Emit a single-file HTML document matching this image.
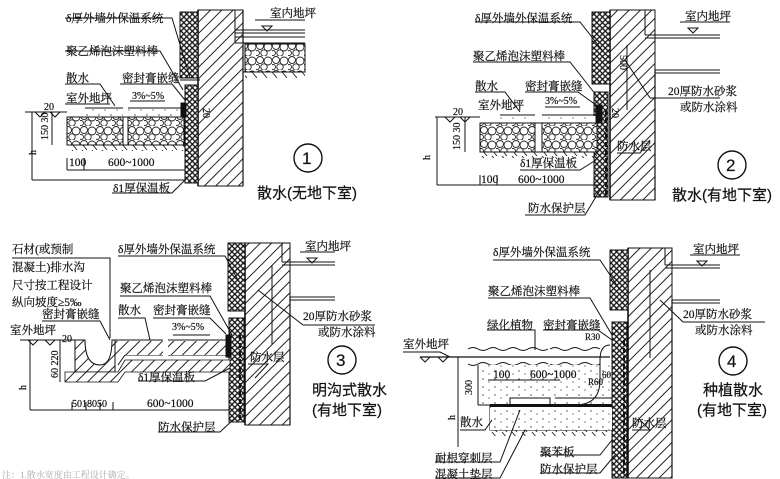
<!DOCTYPE html>
<html><head><meta charset="utf-8"><style>
html,body{margin:0;padding:0;background:#fff;}
svg{display:block;}
text{font-family:"Liberation Serif","Noto Serif CJK SC","Noto Sans CJK SC",serif;font-size:11.5px;fill:#111;stroke:#111;stroke-width:0.2;}
.t{font-family:"Liberation Sans","Noto Sans CJK SC",sans-serif;font-size:15px;}
.n{font-family:"Liberation Sans",sans-serif;font-size:17px;}
</style></head><body>
<svg width="780" height="479" viewBox="0 0 780 479" xmlns="http://www.w3.org/2000/svg">
<defs>
<pattern id="h" width="8" height="8" patternUnits="userSpaceOnUse" patternTransform="rotate(45)">
<rect width="8" height="8" fill="#fff"/><line x1="4" y1="-1" x2="4" y2="9" stroke="#222" stroke-width="1"/></pattern>
<pattern id="x" width="4" height="4" patternUnits="userSpaceOnUse" patternTransform="rotate(45)">
<rect width="4" height="4" fill="#fff"/><line x1="2" y1="-1" x2="2" y2="5" stroke="#111" stroke-width="1.3"/><line x1="-1" y1="2" x2="5" y2="2" stroke="#111" stroke-width="1.3"/></pattern>
<pattern id="g" width="16" height="14" patternUnits="userSpaceOnUse">
<rect width="16" height="14" fill="#fff"/>
<circle cx="4" cy="4" r="3.5" fill="none" stroke="#222" stroke-width="0.9"/>
<circle cx="12" cy="5" r="4" fill="none" stroke="#222" stroke-width="0.9"/>
<circle cx="8" cy="11" r="3.2" fill="none" stroke="#222" stroke-width="0.9"/>
<circle cx="1" cy="11" r="2.5" fill="none" stroke="#222" stroke-width="0.9"/>
</pattern>
<pattern id="c" width="12" height="8" patternUnits="userSpaceOnUse">
<rect width="12" height="8" fill="#fff"/><circle cx="3" cy="3" r="0.7" fill="#333"/><circle cx="9" cy="6" r="0.6" fill="#333"/></pattern>
<pattern id="s" width="10" height="6" patternUnits="userSpaceOnUse">
<line x1="2" y1="0" x2="7" y2="6" stroke="#222" stroke-width="0.9"/></pattern>
</defs>
<g stroke="#111" stroke-width="1" fill="none">

<!-- PANEL 1 -->
<rect x="198" y="10" width="45" height="176" fill="url(#h)"/>
<line x1="198" y1="10" x2="198" y2="186" stroke-width="1.6"/>
<line x1="243" y1="10" x2="243" y2="186" stroke-width="1.2"/>
<line x1="235" y1="10" x2="235" y2="42"/>
<rect x="180" y="12" width="18" height="66" fill="url(#x)"/>
<rect x="185" y="85" width="13" height="98" fill="url(#x)"/>
<line x1="180" y1="80" x2="200" y2="80"/>
<path d="M235 30 H305 M235 33 H305 M235 37 H305 M235 43 H305" />
<rect x="245" y="44" width="60" height="28" fill="url(#g)"/>
<line x1="243" y1="72" x2="305" y2="72"/>
<rect x="245" y="72" width="60" height="6" fill="url(#s)" stroke="none"/>
<path d="M85 108 H123 M128 108 H185 L185 117 H67" />
<rect x="85" y="109" width="38" height="8" fill="url(#c)" stroke="none"/>
<rect x="128" y="109" width="56" height="8" fill="url(#c)" stroke="none"/>
<rect x="181" y="103" width="5" height="14" fill="#111"/>
<rect x="67" y="117" width="56" height="28" fill="url(#g)"/>
<rect x="128" y="117" width="56" height="28" fill="url(#g)"/>
<rect x="67" y="145" width="118" height="6" fill="url(#s)" stroke="none"/>
<line x1="67" y1="145" x2="185" y2="145"/>
<path d="M25 112 H67 M35 112 l5 5 l5 -5 M50 112 l5 5 l5 -5"/>
<path d="M32 112 V180 M52 112 V145 M32 180 H185 M67 170 V158 M84 170 V158 M67 170 H185"/>
<path d="M65 18 H172 L190 78 M65 51 H160 L183 90 M65 84 H100 L115 106 M120 84 H172 L185 100 M65 104 H110 M130 101 L165 101 M112 193 H172 L185 180"/>
<path d="M255 20 H305 M262 26 l5 5 l5 -5 z"/>
<circle cx="308" cy="158" r="14" stroke-width="1.4"/>

<!-- PANEL 2 -->
<rect x="610" y="10" width="45" height="190" fill="url(#h)"/>
<line x1="610" y1="10" x2="610" y2="200" stroke-width="1.6"/>
<line x1="655" y1="70" x2="655" y2="200" stroke-width="1.2"/>
<line x1="645" y1="10" x2="645" y2="35"/>
<path d="M645 35 H720 M645 38 H720 M655 70 H720 M655 73 H720"/>
<rect x="592" y="12" width="18" height="72" fill="url(#x)"/>
<rect x="594" y="92" width="14" height="105" fill="url(#x)"/>
<line x1="606" y1="110" x2="606" y2="195" stroke-dasharray="5 3" stroke-width="2"/>
<path d="M500 115 H535 M542 115 H598 L598 123 H480"/>
<rect x="500" y="116" width="35" height="7" fill="url(#c)" stroke="none"/>
<rect x="542" y="116" width="55" height="7" fill="url(#c)" stroke="none"/>
<rect x="596" y="105" width="6" height="18" fill="#111"/>
<rect x="480" y="123" width="55" height="29" fill="url(#g)"/>
<rect x="542" y="123" width="55" height="29" fill="url(#g)"/>
<line x1="480" y1="152" x2="598" y2="152"/>
<rect x="480" y="152" width="118" height="6" fill="url(#s)" stroke="none"/>
<path d="M435 117 H480 M445 117 l5 5 l5 -5 M460 117 l5 5 l5 -5"/>
<path d="M437 117 V185 M465 117 V152 M437 185 H600 M480 185 V175 M497 185 V175 M627 45 V110"/>
<path d="M475 22 H580 L602 50 M473 62 H570 L600 100 M475 92 H505 L520 112 M525 92 H578 L596 105 M545 107 H580 M520 170 H580 L596 160 M525 215 H585 L600 190 M617 153 H640 L650 140 M650 98 H720 M650 98 L625 60"/>
<path d="M680 22 H730 M688 28 l5 5 l5 -5 z"/>
<circle cx="732" cy="165" r="14" stroke-width="1.4"/>

<!-- PANEL 3 -->
<rect x="245" y="243" width="45" height="182" fill="url(#h)"/>
<line x1="245" y1="243" x2="245" y2="425" stroke-width="1.6"/>
<line x1="290" y1="297" x2="290" y2="425" stroke-width="1.2"/>
<line x1="282" y1="243" x2="282" y2="262"/>
<path d="M282 262 H335 M282 265 H335 M290 297 H335 M290 300 H335"/>
<rect x="228" y="243" width="17" height="68" fill="url(#x)"/>
<rect x="229" y="318" width="15" height="104" fill="url(#x)"/>
<line x1="240" y1="335" x2="240" y2="420" stroke-dasharray="5 3" stroke-width="2"/>
<path d="M115 340 H163 M168 340 H230 L230 355 H168 M163 355 H125 L118 365"/>
<rect x="115" y="341" width="48" height="14" fill="url(#h)" stroke="none"/>
<rect x="168" y="341" width="62" height="14" fill="url(#h)" stroke="none"/>
<rect x="226" y="335" width="5" height="22" fill="#111"/>
<path d="M75 340 H85 Q85 365 100 365 Q112 365 112 340 H115 V372 H75 Z" fill="url(#h)"/>
<path d="M65 372 H118 L125 360 H230 V372 H125 L118 382 H65 Z" fill="url(#h)" stroke-width="0.8"/>
<path d="M20 340 H75 M28 340 l5 5 l5 -5 M45 340 l5 5 l5 -5"/>
<path d="M30 340 V410 M60 340 V382 M30 410 H230 M72 410 V402 M86 410 V402 M100 410 V402 M113 410 V402 M272 265 V345"/>
<path d="M12 258 H110 L110 338 M42 321 H100 L110 340 M118 318 H145 L150 340 M153 318 H210 L226 334 M118 256 H225 L238 280 M120 296 H210 L232 335 M303 325 H375 M303 325 L258 290 M248 364 H268 L255 378 M138 381 H205 L230 368 M158 432 H220 L235 418 M173 335 H210"/>
<path d="M300 252 H335 M307 258 l5 5 l5 -5 z"/>
<circle cx="342" cy="360" r="14" stroke-width="1.4"/>

<!-- PANEL 4 -->
<rect x="628" y="248" width="44" height="230" fill="url(#h)"/>
<line x1="628" y1="248" x2="628" y2="478" stroke-width="1.6"/>
<line x1="672" y1="300" x2="672" y2="478" stroke-width="1.2"/>
<line x1="665" y1="248" x2="665" y2="265"/>
<path d="M665 265 H720 M665 268 H720 M672 300 H720 M672 303 H720"/>
<rect x="610" y="250" width="18" height="60" fill="url(#x)"/>
<rect x="612" y="322" width="15" height="156" fill="url(#x)"/>
<line x1="624" y1="340" x2="624" y2="475" stroke-dasharray="5 3" stroke-width="2"/>
<path d="M468 349 q5 -3 10 0 t10 0 t10 0 t10 0 t10 0 t10 0 t10 0 t10 0 M550 349 q5 -3 10 0 t10 0 t10 0 t10 0 t10 0"/>
<path d="M468 364 q5 3 10 0 t10 0 t10 0 t10 0 t10 0 t10 0 t10 0 t10 0 M550 364 q5 3 10 0 t10 0 t10 0 t10 0 t10 0"/>
<path d="M420 357 H610" stroke-width="1.3"/>
<rect x="478" y="365" width="132" height="40" fill="url(#c)" stroke="none"/>
<path d="M610 345 Q600 345 600 360 V380 Q600 405 575 405" />
<path d="M510 398 H550 M555 398 H612 M490 405 V430 H612 M490 405 H612" />
<rect x="510" y="398" width="40" height="7" fill="#fff" stroke="#111"/>
<rect x="490" y="404" width="122" height="3" fill="#111" stroke="none"/>
<rect x="490" y="408" width="122" height="22" fill="url(#c)" stroke="none"/>
<rect x="490" y="430" width="122" height="6" fill="url(#s)" stroke="none"/>
<path d="M420 357 l5 5 l5 -5 M438 357 l5 5 l5 -5"/>
<path d="M458 357 V447 M478 365 V405 M478 405 H500 M488 380 H560"/>
<path d="M493 260 H600 L620 290 M488 298 H590 L612 335 M487 330 H535 L535 350 M543 330 H598 L612 340 M403 352 H440 L450 357 M460 430 H485 L492 420 M435 462 H500 L520 410 M435 478 H500 L525 430 M540 455 H600 L612 440 M540 473 H600 L615 455 M632 430 H650 L640 420 M683 322 H765 M683 322 L660 300 M650 270 V358"/>
<path d="M690 255 H740 M697 261 l5 5 l5 -5 z"/>
<circle cx="733" cy="361" r="14" stroke-width="1.4"/>
</g>

<g>
<text x="66" y="22">δ厚外墙外保温系统</text>
<text x="66" y="55">聚乙烯泡沫塑料棒</text>
<text x="66" y="82">散水</text>
<text x="122" y="82">密封膏嵌缝</text>
<text x="66" y="102">室外地坪</text>
<text x="132" y="99" style="font-size:10px">3%~5%</text>
<text x="69" y="166">100</text>
<text x="108" y="166">600~1000</text>
<text x="113" y="192">δ1厚保温板</text>
<text x="270" y="17">室内地坪</text>
<text x="44" y="110" style="font-size:10px">20</text>
<text x="48" y="140" style="font-size:10px" transform="rotate(-90 48 140)">150 30</text>
<text x="36" y="155" style="font-size:10px" transform="rotate(-90 36 155)">h</text>
<text x="203" y="108" style="font-size:10px" transform="rotate(90 203 108)">20</text>
<text class="n" x="302" y="164">1</text>
<text class="t" x="257" y="198">散水(无地下室)</text>

<text x="475" y="22">δ厚外墙外保温系统</text>
<text x="473" y="60">聚乙烯泡沫塑料棒</text>
<text x="475" y="90">散水</text>
<text x="525" y="90">密封膏嵌缝</text>
<text x="478" y="109">室外地坪</text>
<text x="545" y="104" style="font-size:10px">3%~5%</text>
<text x="520" y="167">δ1厚保温板</text>
<text x="481" y="183">100</text>
<text x="518" y="183">600~1000</text>
<text x="528" y="212">防水保护层</text>
<text x="617" y="150">防水层</text>
<text x="668" y="95">20厚防水砂浆</text>
<text x="680" y="111">或防水涂料</text>
<text x="685" y="20">室内地坪</text>
<text x="453" y="115" style="font-size:10px">20</text>
<text x="460" y="150" style="font-size:10px" transform="rotate(-90 460 150)">150 30</text>
<text x="430" y="160" style="font-size:10px" transform="rotate(-90 430 160)">h</text>
<text x="620" y="55" style="font-size:10px" transform="rotate(90 620 55)">500</text>
<text x="612" y="108" style="font-size:10px" transform="rotate(90 612 108)">20</text>
<text class="n" x="726" y="171">2</text>
<text class="t" x="672" y="200">散水(有地下室)</text>

<text x="12" y="253">石材(或预制</text>
<text x="12" y="271">混凝土)排水沟</text>
<text x="12" y="289">尺寸按工程设计</text>
<text x="12" y="306">纵向坡度≥5‰</text>
<text x="42" y="318">密封膏嵌缝</text>
<text x="10" y="334">室外地坪</text>
<text x="118" y="314">散水</text>
<text x="153" y="314">密封膏嵌缝</text>
<text x="172" y="330" style="font-size:10px">3%~5%</text>
<text x="118" y="253">δ厚外墙外保温系统</text>
<text x="120" y="292">聚乙烯泡沫塑料棒</text>
<text x="303" y="320">20厚防水砂浆</text>
<text x="318" y="336">或防水涂料</text>
<text x="250" y="361">防水层</text>
<text x="138" y="381">δ1厚保温板</text>
<text x="147" y="407">600~1000</text>
<text x="72" y="407" style="font-size:10px">5018050</text>
<text x="158" y="431">防水保护层</text>
<text x="305" y="250">室内地坪</text>
<text x="62" y="342" style="font-size:10px">20</text>
<text x="58" y="378" style="font-size:10px" transform="rotate(-90 58 378)">60 220</text>
<text x="26" y="390" style="font-size:10px" transform="rotate(-90 26 390)">h</text>
<text class="n" x="336" y="366">3</text>
<text class="t" x="312" y="395">明沟式散水</text>
<text class="t" x="312" y="415">(有地下室)</text>

<text x="493" y="256">δ厚外墙外保温系统</text>
<text x="488" y="295">聚乙烯泡沫塑料棒</text>
<text x="487" y="329">绿化植物</text>
<text x="543" y="329">密封膏嵌缝</text>
<text x="403" y="348">室外地坪</text>
<text x="493" y="378">100</text>
<text x="530" y="378">600~1000</text>
<text x="472" y="395" style="font-size:10px" transform="rotate(-90 472 395)">300</text>
<text x="455" y="420" style="font-size:10px" transform="rotate(-90 455 420)">h</text>
<text x="460" y="426">散水</text>
<text x="435" y="462">耐根穿刺层</text>
<text x="435" y="478">混凝土垫层</text>
<text x="540" y="456">聚苯板</text>
<text x="540" y="473">防水保护层</text>
<text x="632" y="427">防水层</text>
<text x="683" y="318">20厚防水砂浆</text>
<text x="695" y="334">或防水涂料</text>
<text x="693" y="253">室内地坪</text>
<text x="585" y="340" style="font-size:9px">R30</text>
<text x="588" y="385" style="font-size:9px">R60</text>
<text x="602" y="378" style="font-size:9px">60</text>
<text class="n" x="727" y="367">4</text>
<text class="t" x="703" y="395">种植散水</text>
<text class="t" x="697" y="415">(有地下室)</text>

<text x="2" y="478" style="font-size:9px;fill:#aaa;stroke:none">注：1.散水宽度由工程设计确定。</text>
</g>
</svg>
</body></html>
